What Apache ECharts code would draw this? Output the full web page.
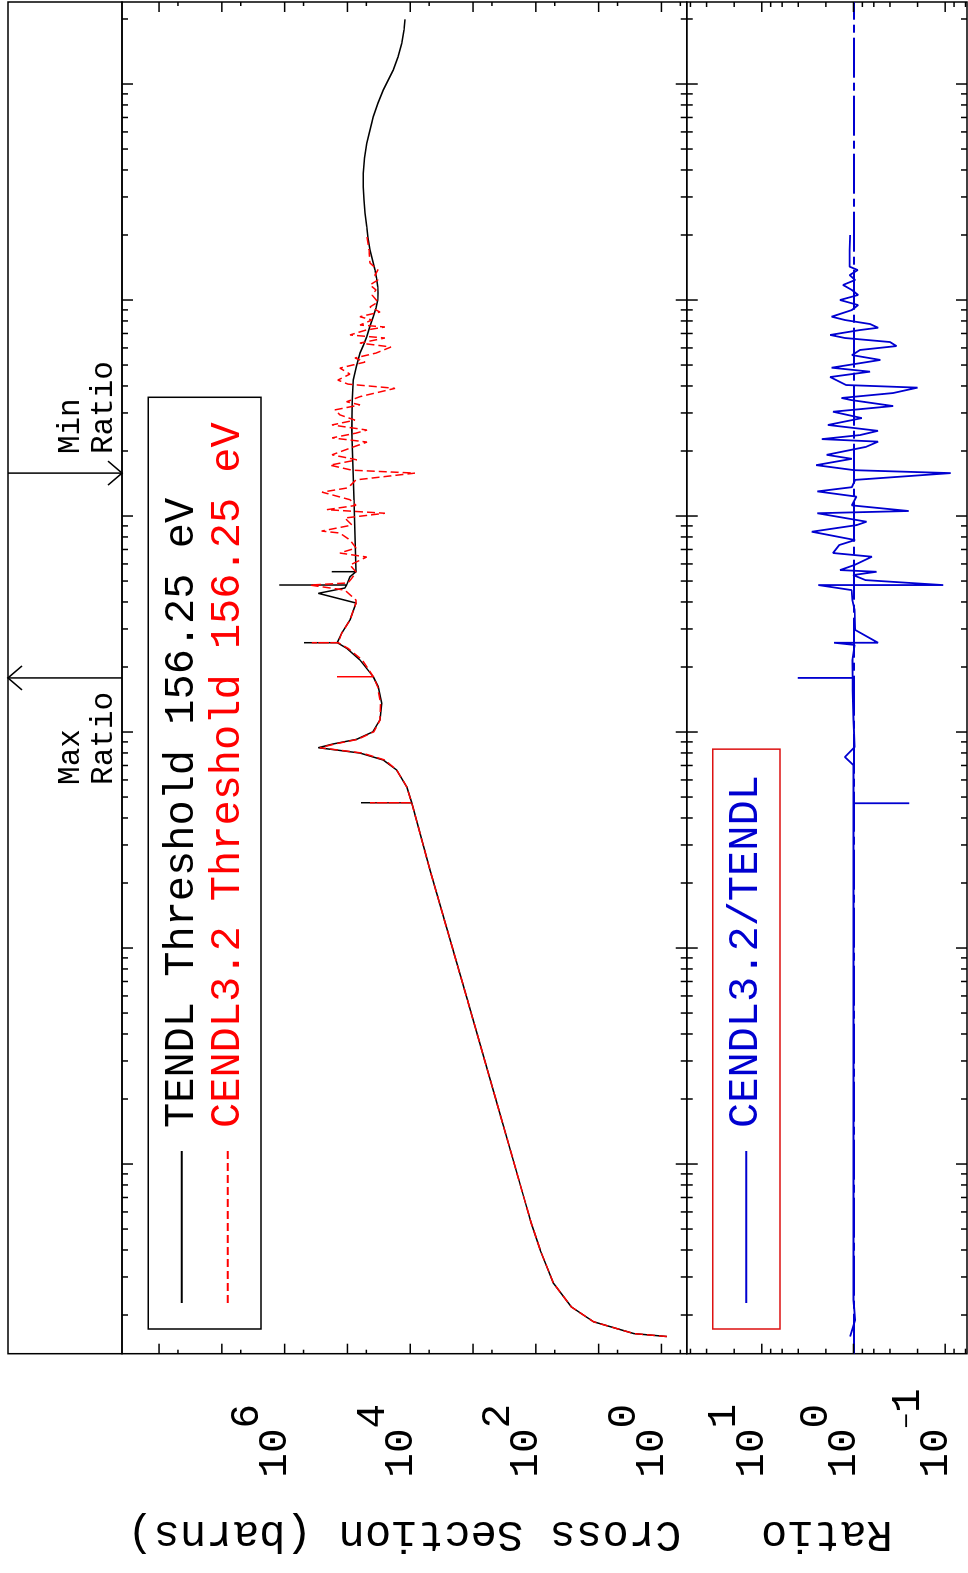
<!DOCTYPE html>
<html><head><meta charset="utf-8">
<script src="https://cdn.jsdelivr.net/npm/echarts@6/dist/echarts.min.js"></script>
<style>
html,body{margin:0;padding:0;background:#fff;overflow:hidden;width:968px;height:1573px;}
#chart{position:absolute;left:0;top:0;width:1573px;height:968px;transform-origin:0 0;transform:translate(0px,1573px) rotate(-90deg);}
</style></head><body><div id="chart"></div>
<script>
// ---------------- data ----------------
const seriesNames = ['TENDL Threshold 156.25 eV', 'CENDL3.2 Threshold 156.25 eV', 'CENDL3.2/TENDL'];

const tendlEnergy = [15.9,16.4,18.6,21.8,28.0,40.0,53.2,68.1,198,574,2297,4706,4706,4706,5582,6671,7421,7991,8254,8458,8800,9252,10030,11370,13580,16200,18030,21540,24410,25910,25910,25910,28640,33000,39560,43870,46420,47930,47930,47930,52360,55240,55240,55240,
118600,250200,344300,426200,494900,568300,618900,676300,757700,836900,918300,1.0e6,1.078e6,1.152e6,1.264e6,1.377e6,1.532e6,1.704e6,1.936e6,2.185e6,2.528e6,2.904e6,3.336e6,3.86e6,4.544e6,5.316e6,6.124e6,7.057e6,8.166e6,9.38e6,1.161e7,1.334e7,1.543e7,1.778e7,1.993e7];
const tendlXS = [0.82,2.74,12.0,27.2,52.2,85.3,118,151,431,1227,4852,9490,60900,9490,11400,16450,26890,63160,148500,291400,170100,71290,39230,30340,28510,32290,38800,63160,102900,145200,492300,145200,123600,91170,73140,291000,109500,102900,1217000,102900,91170,73140,178300,73140,
78750,85640,83770,80760,71810,63160,55560,49400,43780,38800,35130,33010,32660,33010,34500,36450,39960,43780,47120,49400,52590,54560,55980,55980,53570,49400,43780,38800,32660,26890,18630,15680,13690,12590,12130];

const cendlEnergy = [15.9,16.4,18.6,21.8,28.0,40.0,53.2,68.1,198,574,2297,4706,4706,4706,5582,6671,7421,7991,8254,8458,8800,9252,10030,11370,13580,16200,18030,18030,18030,21540,24410,25910,25910,25910,28640,33000,39560,
40800,45400,47900,49000,51600,55100,59300,64600,67400,71100,77400,83400,85200,90800,97900,103000,107000,112000,119000,129000,135000,147000,158000,163000,172000,182000,192000,206000,220000,230000,242000,250000,264000,278000,294000,310000,327000,338000,357000,390000,408000,426000,454000,484000,516000,539000,568000,606000,632000,667000,689000,726000,750000,766000,808000,837000,880000,928000,979000,1055000,1113000,1174000,1238000,1305000,1377000,1484000,1704000,2000000];
const cendlXS = [0.82,2.74,12.0,27.2,52.2,85.3,118,151,431,1227,4852,9490,43800,9490,11400,16450,25500,58000,140000,275000,160000,68000,38000,30340,29800,33000,38800,146900,38800,58000,98000,140000,371200,140000,123600,91170,73140,
73100,110000,395000,98100,84700,73100,91200,49400,132000,73100,91200,132000,257000,84700,110000,25300,212000,73100,91200,254000,98100,73100,8410,84700,190000,70500,176000,91200,48900,176000,73100,48900,176000,75900,132000,158000,63200,103000,63200,17500,98100,142000,91200,132000,52600,75900,35100,20300,63200,25300,91200,50700,25300,63200,40700,63200,30300,43800,32700,40700,35100,43800,32700,36400,32700,43800,45400,49400];

const ratioEnergy = [15.9,18.96,23.5,68.1,574,4350,4680,4680,4680,5390,7030,7660,8520,11400,15600,17800,17800,17800,21500,25300,25900,25900,29700,36700,40800,45400,47900,47900,50500,53300,55200,56200,59300,64800,67400,73400,77400,84600,90800,94100,103000,105500,112000,123000,130000,136000,147000,158000,163000,172000,184000,192000,209000,221000,227000,237000,248000,264000,284000,304000,323000,344000,352000,371000,393000,404000,440000,466000,486000,528000,556000,587000,612000,639000,667000,689000,726000,744000,774000,808000,837000,899000,948000,1000000,1055000,1113000,1174000,1238000,1305000,1377000,1427000,1704000,2000000];
const ratioValues = [1.09,0.96,1.0,1.0,1.0,1.0,1.0,0.246,1.0,1.0,1.0,1.24,0.974,1.0,1.02,1.02,4.06,1.02,1.03,0.97,1.63,0.54,0.96,0.97,1.03,1.05,2.42,0.105,0.74,1.01,0.56,1.40,0.98,0.63,1.67,1.43,0.96,2.85,0.92,0.72,2.48,0.25,1.04,0.93,2.48,1.04,0.96,0.087,0.98,2.56,1.04,1.96,0.73,0.54,2.22,0.85,0.54,1.90,0.81,1.67,0.37,1.05,1.35,0.37,0.20,1.2,1.80,0.66,1.73,0.51,1.04,0.85,0.34,0.40,1.24,1.80,0.85,0.54,0.66,1.24,1.73,1.04,0.89,1.40,0.89,1.04,1.30,0.96,1.1,0.9,1.10,1.10,1.09];

// axis ranges and tick labelling
const energyRange = [13.24, 2.397e7];
const xsRange = [0.396, 3.89e8];
const ratioRange = [0.0578, 65.9];
const xsLabelExponents = [0, 2, 4, 6];
const ratioLabelExponents = [-1, 0, 1];
const energyMinorMultipliers = [2,3,4,5,6,7,8,9];
const xsMinorMultipliers = [5];
const ratioMinorMultipliers = [2,4,6,8];

// ---------------- helpers ----------------
const FONT = '"Liberation Mono", "DejaVu Sans Mono", monospace';
const zip = (a, b) => a.map((v, i) => [v, b[i]]);
function decadeTicks(range, mults) {
  const out = [];
  const e0 = Math.floor(Math.log10(range[0])), e1 = Math.ceil(Math.log10(range[1]));
  for (let e = e0; e <= e1; e++) {
    const base = Math.pow(10, e);
    if (base >= range[0] && base <= range[1]) out.push([base, 1]);
    mults.forEach(m => { const v = m * base; if (v >= range[0] && v <= range[1]) out.push([v, 0]); });
  }
  return out;
}
const energyTicks = decadeTicks(energyRange, energyMinorMultipliers);
const xsTicks = decadeTicks(xsRange, xsMinorMultipliers);
const ratioTicks = decadeTicks(ratioRange, ratioMinorMultipliers);

function expLabel(allowed) {
  return function (v) {
    const l = Math.log10(v), e = Math.round(l);
    if (Math.abs(l - e) > 1e-6 || allowed.indexOf(e) < 0) return '';
    return e < 0 ? '{b|10}{m|\u2212}{s|' + (-e) + '}' : '{b|10}{s|' + e + '}';
  };
}
const labelRich = {
  b: { fontSize: 41, fontFamily: FONT, color: '#000', padding: [28, 0, 47, 0] },
  s: { fontSize: 41, fontFamily: FONT, color: '#000', padding: [0, 0, 75, 0] },
  m: { fontSize: 26, fontFamily: FONT, color: '#000', padding: [0, 0, 75, 0], lineHeight: 41 }
};

const BLK = { stroke: '#000', lineWidth: 1.5 };
function vTicks(len) { // ticks of the energy axis on top and bottom edges
  return function (params, api) {
    const cs = params.coordSys;
    const x = api.coord([api.value(0), api.value(1)])[0];
    const L = api.value(2) ? len[0] : len[1];
    const t = cs.y, b = cs.y + cs.height;
    return { type: 'group', children: [
      { type: 'line', shape: { x1: x, y1: t, x2: x, y2: t + L }, style: BLK },
      { type: 'line', shape: { x1: x, y1: b, x2: x, y2: b - L }, style: BLK }
    ]};
  };
}
function hTicks(len) { // ticks of the value axis on left and right edges
  return function (params, api) {
    const cs = params.coordSys;
    const y = api.coord([api.value(0), api.value(1)])[1];
    const L = api.value(2) ? len[0] : len[1];
    const l = cs.x, r = cs.x + cs.width;
    return { type: 'group', children: [
      { type: 'line', shape: { x1: l, y1: y, x2: l + L, y2: y }, style: BLK },
      { type: 'line', shape: { x1: r, y1: y, x2: r - L, y2: y }, style: BLK }
    ]};
  };
}
// max / min ratio markers come from the ratio data
let iMax = 0, iMin = 0;
ratioValues.forEach((v, i) => { if (v > ratioValues[iMax]) iMax = i; if (v < ratioValues[iMin]) iMin = i; });
const markerData = [[ratioEnergy[iMax], 0.5, 1], [ratioEnergy[iMin], 0.5, -1]];
function markerItem(params, api) {
  const cs = params.coordSys;
  const x = api.coord([api.value(0), api.value(1)])[0];
  const isMax = api.value(2) > 0;
  const t = cs.y, b = cs.y + cs.height;
  const head = isMax ? [[x - 12, t + 14], [x, t], [x + 12, t + 14]] : [[x - 12, b - 14], [x, b], [x + 12, b - 14]];
  return { type: 'group', children: [
    { type: 'line', shape: { x1: x, y1: t, x2: x, y2: b }, style: BLK },
    { type: 'polyline', shape: { points: head }, style: { stroke: '#000', lineWidth: 1.5, fill: null } },
    { type: 'text', style: {
        text: (isMax ? 'Max' : 'Min') + '\nRatio',
        x: isMax ? x - 107 : x + 19, y: t + 79,
        font: '31px ' + FONT, fill: '#000',
        align: 'left', verticalAlign: 'middle', textAlign: 'left', textVerticalAlign: 'middle', lineHeight: 33 } }
  ]};
}

const GL = 219.3, GW = 1351.7;
const hiddenAxis = { axisLine: { show: false }, axisTick: { show: false }, axisLabel: { show: false }, splitLine: { show: false }, minorTick: { show: false } };
const gridStyle = { show: true, borderColor: '#000', borderWidth: 1.5, backgroundColor: 'transparent', containLabel: false, outerBoundsMode: 'none' };

const option = {
  animation: false,
  backgroundColor: '#fff',
  textStyle: { fontFamily: FONT },
  grid: [
    Object.assign({ left: GL, top: 122, width: GW, height: 564.7 }, gridStyle),
    Object.assign({ left: GL, top: 686.7, width: GW, height: 280.3 }, gridStyle),
    Object.assign({ left: GL, top: 8, width: GW, height: 114 }, gridStyle)
  ],
  xAxis: [
    Object.assign({ type: 'log', logBase: 10, gridIndex: 0, min: energyRange[0], max: energyRange[1] }, hiddenAxis),
    Object.assign({ type: 'log', logBase: 10, gridIndex: 1, min: energyRange[0], max: energyRange[1] }, hiddenAxis),
    Object.assign({ type: 'log', logBase: 10, gridIndex: 2, min: energyRange[0], max: energyRange[1] }, hiddenAxis)
  ],
  yAxis: [
    { type: 'log', logBase: 10, gridIndex: 0, min: xsRange[0], max: xsRange[1],
      axisLine: { show: false }, axisTick: { show: false }, splitLine: { show: false }, minorTick: { show: false },
      axisLabel: { interval: 0, align: 'left', margin: 124, formatter: expLabel(xsLabelExponents), rich: labelRich, fontSize: 41, fontFamily: FONT, color: '#000', hideOverlap: false },
      name: 'Cross Section (barns)', nameLocation: 'middle', nameRotate: 90, nameGap: 158,
      nameTextStyle: { fontSize: 44, fontFamily: FONT, color: '#000' } },
    { type: 'log', logBase: 10, gridIndex: 1, min: ratioRange[0], max: ratioRange[1],
      axisLine: { show: false }, axisTick: { show: false }, splitLine: { show: false }, minorTick: { show: false },
      axisLabel: { interval: 0, align: 'left', margin: 124, formatter: expLabel(ratioLabelExponents), rich: labelRich, fontSize: 41, fontFamily: FONT, color: '#000', hideOverlap: false },
      name: 'Ratio', nameLocation: 'middle', nameRotate: 90, nameGap: 158,
      nameTextStyle: { fontSize: 44, fontFamily: FONT, color: '#000' } },
    Object.assign({ type: 'value', gridIndex: 2, min: 0, max: 1 }, hiddenAxis)
  ],
  legend: [
    { orient: 'vertical', left: 244, top: 148.3, selectedMode: false,
      data: [ { name: seriesNames[0], textStyle: { color: '#000' } }, { name: seriesNames[1], textStyle: { color: '#ff0000' } } ],
      itemWidth: 152, itemHeight: 14, itemGap: 4, padding: [12.4, 25, 12.3, 25],
      itemStyle: { opacity: 0, borderWidth: 0 },
      borderColor: '#000', borderWidth: 1.5, borderRadius: 0,
      textStyle: { fontSize: 42, fontFamily: FONT, padding: [0, 0, 0, 18] } },
    { orient: 'vertical', left: 244, top: 712.7, selectedMode: false,
      data: [ { name: seriesNames[2], textStyle: { color: '#0000d0' } } ],
      itemWidth: 152, itemHeight: 14, itemGap: 4, padding: [12.6, 26, 12.6, 25],
      itemStyle: { opacity: 0, borderWidth: 0 },
      borderColor: '#dd1111', borderWidth: 1.5, borderRadius: 0,
      textStyle: { fontSize: 42, fontFamily: FONT, padding: [0, 0, 0, 18] } }
  ],
  series: [
    { name: seriesNames[0], type: 'line', xAxisIndex: 0, yAxisIndex: 0, data: zip(tendlEnergy, tendlXS),
      symbol: 'none', showSymbol: false, lineStyle: { color: '#000', width: 1.5 }, itemStyle: { color: '#000' }, z: 3 },
    { name: seriesNames[1], type: 'line', xAxisIndex: 0, yAxisIndex: 0, data: zip(cendlEnergy, cendlXS),
      symbol: 'none', showSymbol: false, lineStyle: { color: '#ff0000', width: 1.5, type: [8, 4] }, itemStyle: { color: '#ff0000' }, z: 4 },
    { name: seriesNames[2], type: 'line', xAxisIndex: 1, yAxisIndex: 1, data: zip(ratioEnergy, ratioValues),
      symbol: 'none', showSymbol: false, lineStyle: { color: '#0000d0', width: 1.8 }, itemStyle: { color: '#0000d0' }, z: 4,
      markLine: { silent: true, symbol: ['none', 'none'], label: { show: false }, animation: false,
        lineStyle: { color: '#0000d0', width: 1.8, type: [40, 5, 8, 5] }, data: [{ yAxis: 1 }] } },
    { type: 'custom', xAxisIndex: 0, yAxisIndex: 0, silent: true, renderItem: vTicks([11, 6]), data: energyTicks.map(t => [t[0], 1, t[1]]), z: 5 },
    { type: 'custom', xAxisIndex: 0, yAxisIndex: 0, silent: true, renderItem: hTicks([10, 4]), data: xsTicks.map(t => [100, t[0], t[1]]), z: 5 },
    { type: 'custom', xAxisIndex: 1, yAxisIndex: 1, silent: true, renderItem: vTicks([11, 6]), data: energyTicks.map(t => [t[0], 1, t[1]]), z: 5 },
    { type: 'custom', xAxisIndex: 1, yAxisIndex: 1, silent: true, renderItem: hTicks([10, 5]), data: ratioTicks.map(t => [100, t[0], t[1]]), z: 5 },
    { type: 'custom', xAxisIndex: 2, yAxisIndex: 2, silent: true, renderItem: markerItem, data: markerData, z: 5 }
  ]
};
const chart = echarts.init(document.getElementById('chart'), null, { renderer: 'canvas', width: 1573, height: 968 });
chart.setOption(option);
</script></body></html>
